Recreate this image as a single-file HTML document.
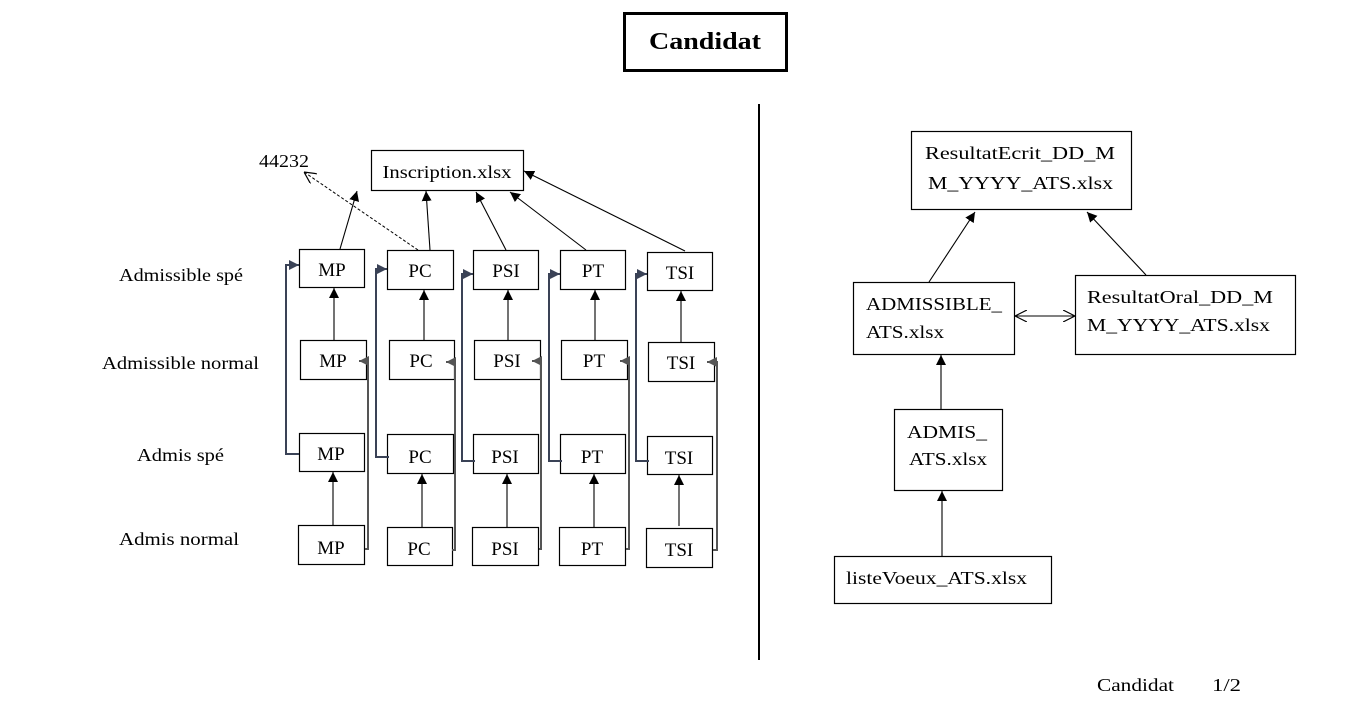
<!DOCTYPE html>
<html><head><meta charset="utf-8"><style>
html,body{margin:0;padding:0;background:#fff;}
svg{display:block;}
text{font-family:"Liberation Serif",serif;fill:#000;}
</style></head><body>
<svg width="1364" height="715" viewBox="0 0 1364 715" xmlns="http://www.w3.org/2000/svg">
<defs>
<marker id="a" viewBox="0 0 10 10" refX="10" refY="5" markerWidth="10" markerHeight="10" markerUnits="userSpaceOnUse" orient="auto"><path d="M0,0L10,5L0,10z" fill="#000"/></marker>
<marker id="b" viewBox="0 0 10 10" refX="10" refY="5" markerWidth="10" markerHeight="10" markerUnits="userSpaceOnUse" orient="auto"><path d="M0,0L10,5L0,10z" fill="#3a4256"/></marker>
<marker id="g" viewBox="0 0 10 10" refX="10" refY="5" markerWidth="10" markerHeight="10" markerUnits="userSpaceOnUse" orient="auto"><path d="M0,0L10,5L0,10z" fill="#555"/></marker>
<marker id="o" viewBox="0 0 10 10" refX="10" refY="5" markerWidth="12" markerHeight="12" markerUnits="userSpaceOnUse" orient="auto"><path d="M0,0L10,5L0,10" fill="none" stroke="#000" stroke-width="1"/></marker>
<marker id="os" viewBox="0 0 10 10" refX="0" refY="5" markerWidth="12" markerHeight="12" markerUnits="userSpaceOnUse" orient="auto"><path d="M10,0L0,5L10,10" fill="none" stroke="#000" stroke-width="1"/></marker>
</defs>
<rect x="624.5" y="13.5" width="162" height="57" fill="none" stroke="#000" stroke-width="3"/>
<text x="705" y="49" font-size="24" font-weight="bold" text-anchor="middle" textLength="112" lengthAdjust="spacingAndGlyphs">Candidat</text>
<line x1="759" y1="104" x2="759" y2="660" stroke="#000" stroke-width="2"/>

<g fill="none" stroke="#000" stroke-width="1.2">
<rect x="371.5" y="150.5" width="152" height="40"/>
<rect x="299.5" y="249.5" width="65" height="38"/><rect x="387.5" y="250.5" width="66" height="39"/><rect x="473.5" y="250.5" width="65" height="39"/><rect x="560.5" y="250.5" width="65" height="39"/><rect x="647.5" y="252.5" width="65" height="38"/>
<rect x="300.5" y="340.5" width="66" height="39"/><rect x="389.5" y="340.5" width="65" height="39"/><rect x="474.5" y="340.5" width="66" height="39"/><rect x="561.5" y="340.5" width="66" height="39"/><rect x="648.5" y="342.5" width="66" height="39"/>
<rect x="299.5" y="433.5" width="65" height="38"/><rect x="387.5" y="434.5" width="66" height="39"/><rect x="473.5" y="434.5" width="65" height="39"/><rect x="560.5" y="434.5" width="65" height="39"/><rect x="647.5" y="436.5" width="65" height="38"/>
<rect x="298.5" y="525.5" width="66" height="39"/><rect x="387.5" y="527.5" width="65" height="38"/><rect x="472.5" y="527.5" width="66" height="38"/><rect x="559.5" y="527.5" width="66" height="38"/><rect x="646.5" y="528.5" width="66" height="39"/>
<rect x="911.5" y="131.5" width="220" height="78"/>
<rect x="853.5" y="282.5" width="161" height="72"/>
<rect x="1075.5" y="275.5" width="220" height="79"/>
<rect x="894.5" y="409.5" width="108" height="81"/>
<rect x="834.5" y="556.5" width="217" height="47"/>
</g>

<g font-size="19" text-anchor="middle">
<text x="447" y="178" font-size="18" textLength="129" lengthAdjust="spacingAndGlyphs">Inscription.xlsx</text>
<text x="332" y="276">MP</text><text x="420" y="277">PC</text><text x="506" y="277">PSI</text><text x="593" y="277">PT</text><text x="680" y="279">TSI</text>
<text x="333" y="367">MP</text><text x="421" y="367">PC</text><text x="507" y="367">PSI</text><text x="594" y="367">PT</text><text x="681" y="369">TSI</text>
<text x="331" y="460">MP</text><text x="420" y="463">PC</text><text x="505" y="463">PSI</text><text x="592" y="463">PT</text><text x="679" y="464">TSI</text>
<text x="331" y="554">MP</text><text x="419" y="555">PC</text><text x="505" y="555">PSI</text><text x="592" y="555">PT</text><text x="679" y="556">TSI</text>
</g>
<g font-size="18" lengthAdjust="spacingAndGlyphs">
<text x="259" y="167" textLength="50" lengthAdjust="spacingAndGlyphs">44232</text>
<text x="119" y="281" textLength="124" lengthAdjust="spacingAndGlyphs">Admissible spé</text>
<text x="102" y="369" textLength="157" lengthAdjust="spacingAndGlyphs">Admissible normal</text>
<text x="137" y="461" textLength="87" lengthAdjust="spacingAndGlyphs">Admis spé</text>
<text x="119" y="545" textLength="120" lengthAdjust="spacingAndGlyphs">Admis normal</text>
<text x="925" y="159" textLength="190" lengthAdjust="spacingAndGlyphs">ResultatEcrit_DD_M</text>
<text x="928" y="189" textLength="185" lengthAdjust="spacingAndGlyphs">M_YYYY_ATS.xlsx</text>
<text x="866" y="310" textLength="136" lengthAdjust="spacingAndGlyphs">ADMISSIBLE_</text>
<text x="866" y="338" textLength="78" lengthAdjust="spacingAndGlyphs">ATS.xlsx</text>
<text x="1087" y="303" textLength="186" lengthAdjust="spacingAndGlyphs">ResultatOral_DD_M</text>
<text x="1087" y="331" textLength="183" lengthAdjust="spacingAndGlyphs">M_YYYY_ATS.xlsx</text>
<text x="907" y="438" textLength="80" lengthAdjust="spacingAndGlyphs">ADMIS_</text>
<text x="909" y="465" textLength="78" lengthAdjust="spacingAndGlyphs">ATS.xlsx</text>
<text x="846" y="584" textLength="181" lengthAdjust="spacingAndGlyphs">listeVoeux_ATS.xlsx</text>
<text x="1097" y="691" textLength="77" lengthAdjust="spacingAndGlyphs">Candidat</text>
<text x="1212" y="691" textLength="29" lengthAdjust="spacingAndGlyphs">1/2</text>
</g>

<g stroke="#000" stroke-width="1.1" fill="none" marker-end="url(#a)">
<line x1="340" y1="249" x2="357" y2="191"/>
<line x1="430" y1="250" x2="426" y2="191"/>
<line x1="506" y1="250" x2="476" y2="192"/>
<line x1="586" y1="250" x2="510" y2="192"/>
<line x1="685" y1="251" x2="524" y2="171"/>
<line x1="334" y1="340" x2="334" y2="288"/><line x1="424" y1="340" x2="424" y2="290"/><line x1="508" y1="340" x2="508" y2="290"/><line x1="595" y1="340" x2="595" y2="290"/><line x1="681" y1="342" x2="681" y2="291"/>
<line x1="333" y1="525" x2="333" y2="472"/><line x1="422" y1="527" x2="422" y2="474"/><line x1="507" y1="527" x2="507" y2="474"/><line x1="594" y1="527" x2="594" y2="474"/><line x1="679" y1="526" x2="679" y2="475"/>
<line x1="929" y1="282" x2="975" y2="212"/>
<line x1="1146" y1="275" x2="1087" y2="212"/>
<line x1="941" y1="409" x2="941" y2="355"/>
<line x1="942" y1="556" x2="942" y2="491"/>
</g>
<line x1="418" y1="250" x2="304" y2="172" stroke="#000" stroke-width="1" stroke-dasharray="3,2" marker-end="url(#o)"/>
<line x1="1015" y1="316" x2="1075" y2="316" stroke="#000" stroke-width="1" marker-start="url(#os)" marker-end="url(#o)"/>

<g stroke="#3a4256" stroke-width="2" fill="none" marker-end="url(#b)">
<polyline points="299,454 286,454 286,265 299,265"/>
<polyline points="389,457 376,457 376,269 387,269"/>
<polyline points="475,461 462,461 462,274 473,274"/>
<polyline points="562,461 549,461 549,274 560,274"/>
<polyline points="649,461 636,461 636,274 647,274"/>
</g>
<g stroke="#555" stroke-width="2" fill="none" marker-end="url(#g)">
<polyline points="365,549 368,549 368,361 359,361"/>
<polyline points="452,550 455,550 455,362 446,362"/>
<polyline points="539,549 541,549 541,361 532,361"/>
<polyline points="626,549 629,549 629,361 620,361"/>
<polyline points="713,550 717,550 717,362 707,362"/>
</g>
</svg>
</body></html>
